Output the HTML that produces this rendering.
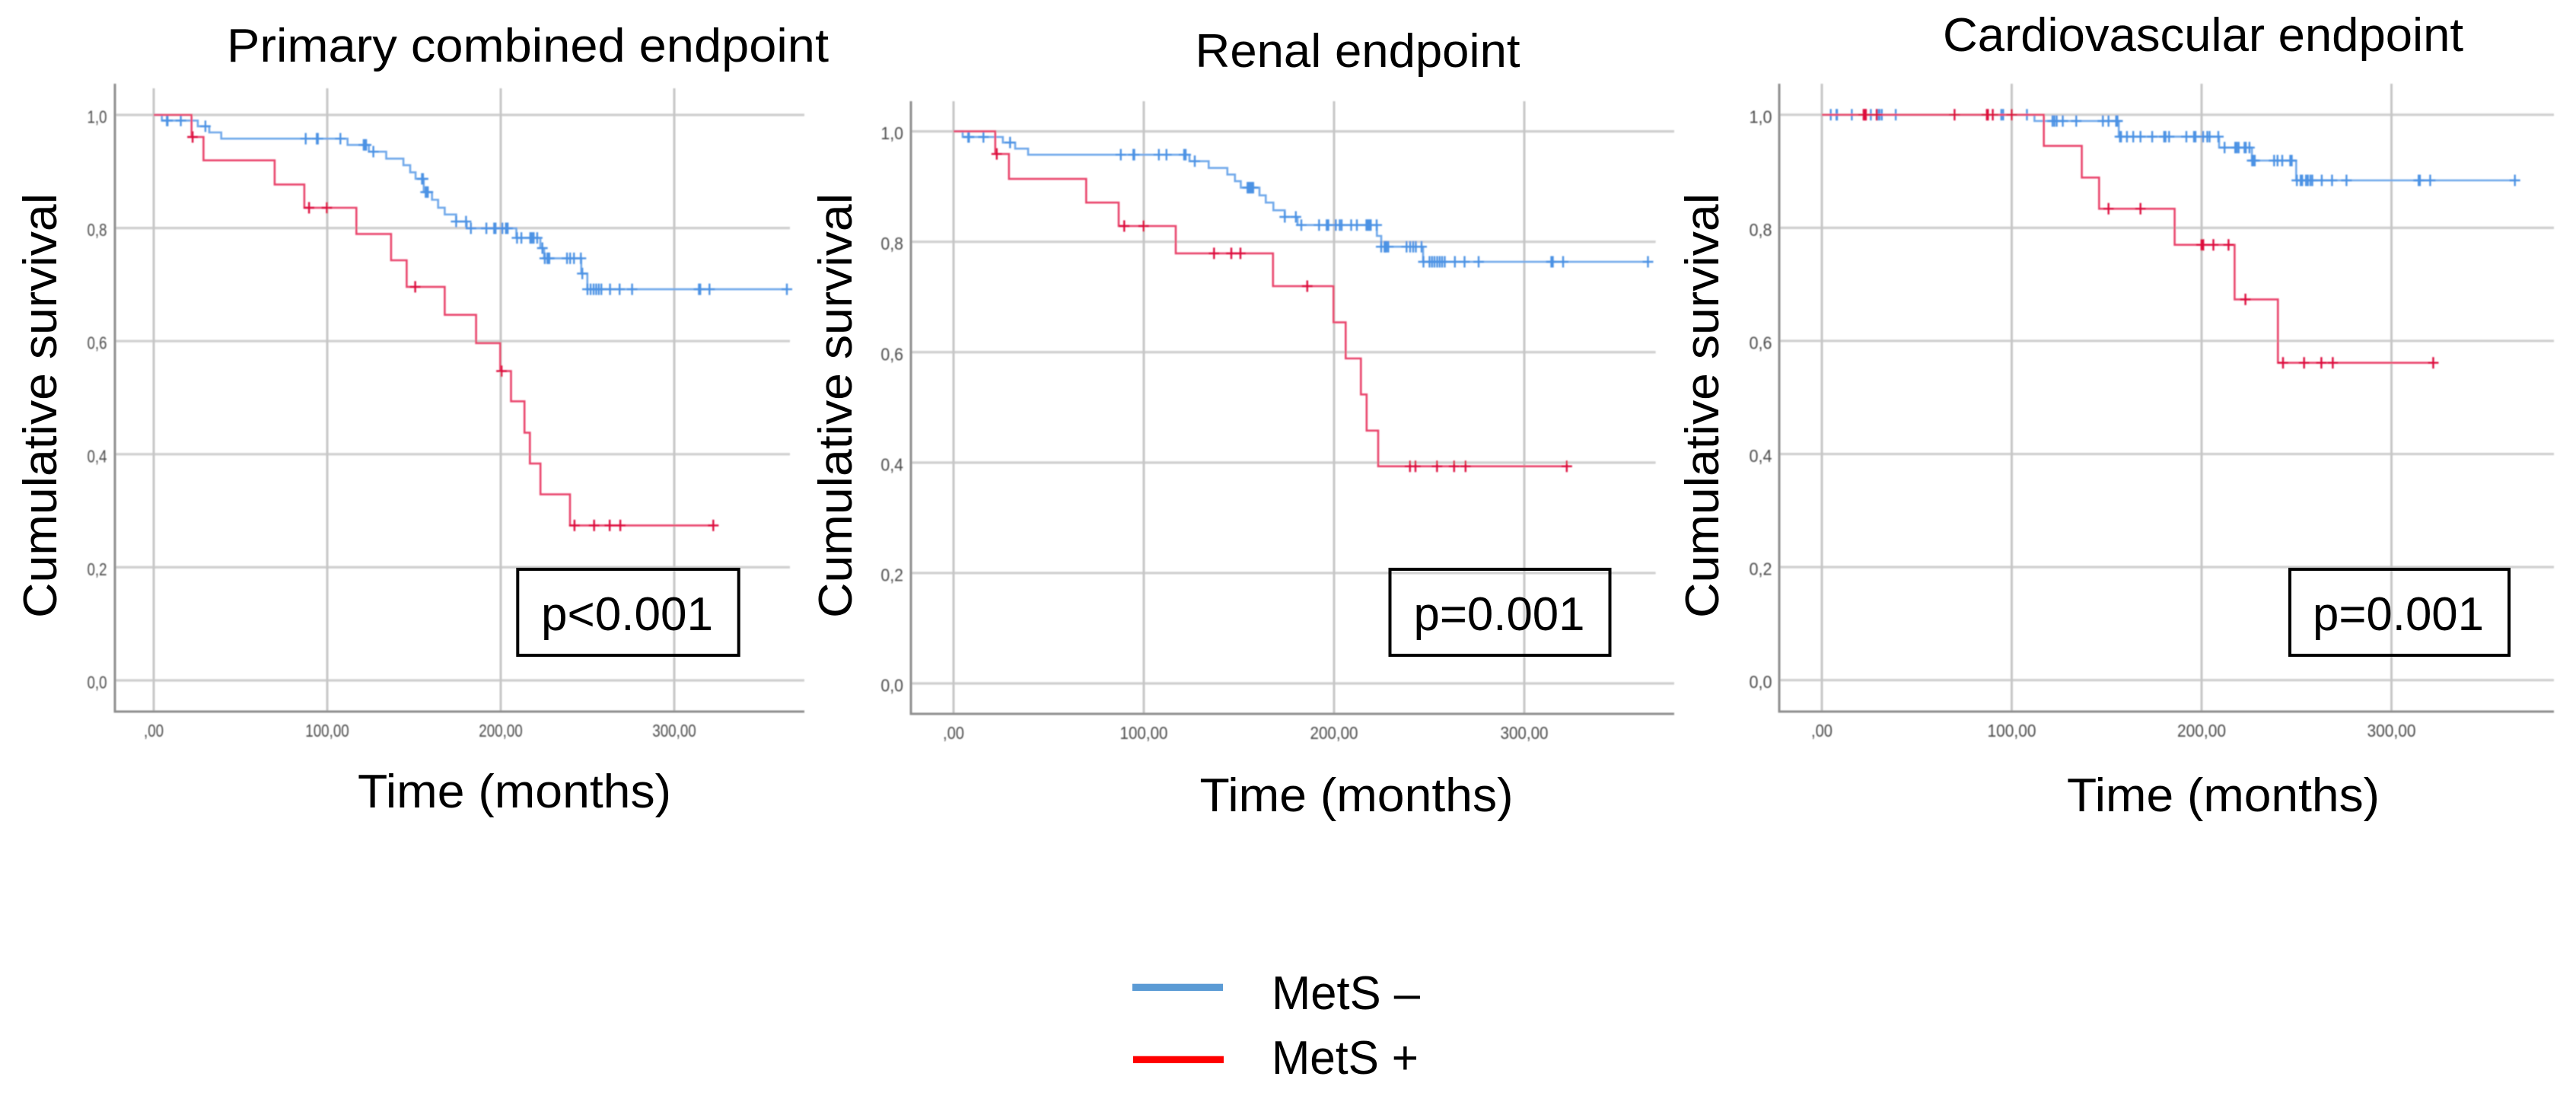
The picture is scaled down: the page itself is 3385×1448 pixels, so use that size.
<!DOCTYPE html>
<html lang="en">
<head>
<meta charset="utf-8">
<title>Kaplan-Meier survival by MetS status</title>
<style>
  html, body { margin: 0; padding: 0; background: #ffffff; }
  svg { display: block; }
  text { font-family: "Liberation Sans", sans-serif; fill: #000000; }
  .big { font-size: 62px; }
  .tick { font-size: 23px; fill: #4a4a4a; }
</style>
</head>
<body>
<svg id="figure" width="3385" height="1448" viewBox="0 0 3385 1448" xmlns="http://www.w3.org/2000/svg">
  <defs>
    <filter id="soft" x="-2%" y="-2%" width="104%" height="104%"><feGaussianBlur stdDeviation="0.7"/></filter>
  </defs>
  <rect x="0" y="0" width="3385" height="1448" fill="#ffffff"/>

  <g id="plot-1" filter="url(#soft)"></g>
  <g id="plot-2" filter="url(#soft)"></g>
  <g id="plot-3" filter="url(#soft)"></g>

  <text class="big" x="298" y="81" textLength="791" lengthAdjust="spacingAndGlyphs">Primary combined endpoint</text>
  <text class="big" x="1570.5" y="88" textLength="427" lengthAdjust="spacingAndGlyphs">Renal endpoint</text>
  <text class="big" x="2553" y="67" textLength="684" lengthAdjust="spacingAndGlyphs">Cardiovascular endpoint</text>

  <text class="big" transform="translate(74,812) rotate(-90)" textLength="558" lengthAdjust="spacingAndGlyphs">Cumulative survival</text>
  <text class="big" transform="translate(1119,812) rotate(-90)" textLength="558" lengthAdjust="spacingAndGlyphs">Cumulative survival</text>
  <text class="big" transform="translate(2258,812) rotate(-90)" textLength="558" lengthAdjust="spacingAndGlyphs">Cumulative survival</text>

  <text class="big" x="470" y="1061" textLength="412" lengthAdjust="spacingAndGlyphs">Time (months)</text>
  <text class="big" x="1576.5" y="1066" textLength="412" lengthAdjust="spacingAndGlyphs">Time (months)</text>
  <text class="big" x="2716" y="1066" textLength="411" lengthAdjust="spacingAndGlyphs">Time (months)</text>

  <rect x="680.3" y="748" width="290.4" height="113" fill="none" stroke="#000000" stroke-width="4"/>
  <text class="big" x="711" y="828" textLength="226" lengthAdjust="spacingAndGlyphs">p&lt;0.001</text>
  <rect x="1826.5" y="748" width="289" height="113" fill="none" stroke="#000000" stroke-width="4"/>
  <text class="big" x="1857.5" y="828" textLength="225" lengthAdjust="spacingAndGlyphs">p=0.001</text>
  <rect x="3009" y="748" width="288" height="113" fill="none" stroke="#000000" stroke-width="4"/>
  <text class="big" x="3039" y="828" textLength="225" lengthAdjust="spacingAndGlyphs">p=0.001</text>

  <g>
    <rect x="1488" y="1292.7" width="119" height="9.3" fill="#5b9bd5"/>
    <text class="big" x="1671" y="1326" textLength="195" lengthAdjust="spacingAndGlyphs">MetS –</text>
    <rect x="1489" y="1387.7" width="119" height="9.3" fill="#ff0000"/>
    <text class="big" x="1671" y="1411" textLength="193" lengthAdjust="spacingAndGlyphs">MetS +</text>
  </g>
</svg>

<script>
// ---- shared axis data ----
const xTickValues = [0, 100, 200, 300];
const xTickLabels = [",00", "100,00", "200,00", "300,00"];
const yTickValues = [1.0, 0.8, 0.6, 0.4, 0.2, 0.0];
const yTickLabels = ["1,0", "0,8", "0,6", "0,4", "0,2", "0,0"];

// ---- primary combined endpoint ----
const primaryBlueTimes = [4.7, 25.4, 32, 38.9, 111.7, 124, 134, 143.9, 147.8, 150.9, 155.6, 160.4, 163.9, 167.7, 174.3, 180.4, 209, 222.8, 225, 246.4, 249.9];
const primaryBlueSurvival = [0.990, 0.980, 0.969, 0.958, 0.947, 0.935, 0.9227, 0.911, 0.8985, 0.887, 0.8635, 0.850, 0.836, 0.824, 0.8115, 0.7995, 0.7825, 0.7645, 0.7465, 0.7195, 0.6917];
const primaryBlueCensored = [7.6, 8, 15.6, 29.8, 87.6, 94, 94.6, 107.6, 121, 121.8, 122.4, 126.6, 154.6, 155.2, 156.7, 157.4, 158, 174.3, 180, 182.8, 191.7, 196.2, 197, 200.9, 203, 204, 209.4, 211.9, 217, 218, 219, 221, 224, 225.4, 226.9, 227.5, 228, 238.2, 240, 242.2, 246.2, 247, 250, 251.8, 253.5, 255, 256.5, 258, 263, 268.5, 275.7, 314.2, 315, 320.3, 364.9];
const primaryRedTimes = [21.8, 28.7, 69.7, 86.8, 116.8, 136.8, 145.8, 167.7, 185.8, 199.7, 205.9, 213.7, 216.8, 222.9, 239.9];
const primaryRedSurvival = [0.961, 0.9196, 0.877, 0.8358, 0.7895, 0.743, 0.696, 0.6465, 0.5965, 0.547, 0.4935, 0.438, 0.3835, 0.329, 0.274];
const primaryRedCensored = [22.4, 89.5, 99.8, 150.7, 200.5, 242.5, 253.8, 262.8, 268.9, 322.5];

// ---- renal endpoint ----
const renalBlueTimes = [4.8, 25.9, 32.4, 39.2, 124, 134.1, 143.9, 147.9, 151, 160.8, 164.1, 168.1, 174.1, 180.8, 222.5, 224.8, 246.8];
const renalBlueSurvival = [0.9898, 0.9797, 0.9687, 0.9577, 0.946, 0.9337, 0.9218, 0.9097, 0.898, 0.884, 0.871, 0.857, 0.845, 0.8303, 0.8106, 0.791, 0.7637];
const renalBlueCensored = [7.7, 8.1, 15.7, 29.7, 87.9, 94.5, 95, 107.9, 111.9, 121.2, 122, 126.8, 154.5, 155, 155.5, 156, 156.5, 157, 157.5, 174.1, 179.9, 182.8, 192.1, 196.1, 197, 200.9, 203, 204, 209, 212, 217, 217.8, 218.6, 219.3, 222.4, 224.8, 226.5, 227, 227.5, 228.5, 238.1, 240, 241.6, 243, 246, 247, 250.2, 251.5, 252.8, 254.2, 255.5, 256.8, 258.2, 263.5, 268.6, 276, 314.2, 315, 320.4, 365];
const renalRedTimes = [21.9, 29.1, 69.7, 86.8, 116.8, 167.9, 199.7, 206.1, 214.1, 217.1, 223.2];
const renalRedSurvival = [0.959, 0.9139, 0.871, 0.8285, 0.779, 0.7196, 0.654, 0.5886, 0.5234, 0.458, 0.3933];
const renalRedCensored = [22.7, 89.7, 99.9, 136.9, 146, 150.8, 185.9, 239.9, 242.8, 254.1, 263.1, 269.1, 322.3];

// ---- cardiovascular endpoint ----
const cardioBlueTimes = [112, 156.4, 209.2, 226.5, 249.8];
const cardioBlueSurvival = [0.989, 0.9613, 0.942, 0.919, 0.884];
const cardioBlueCensored = [4.7, 7.7, 8, 15.8, 25.8, 29.4, 30.4, 31.6, 38.9, 94.5, 95.5, 108, 121.5, 122.5, 123.7, 126.9, 134, 148, 151, 155, 155.7, 157, 157.6, 160.7, 164, 167.8, 174, 180.3, 181, 182.9, 192, 196, 196.8, 200.8, 203, 204.2, 208.8, 212.1, 217.7, 218.5, 219.5, 222.6, 223.3, 225.2, 226.6, 227.3, 228, 238.2, 240, 242.5, 246.7, 247.5, 250.2, 252.2, 253, 255, 256, 257.3, 258.3, 263.3, 268.7, 276.3, 314.3, 315, 320.4, 365];
const cardioRedTimes = [116.9, 136.9, 146, 185.8, 217.4, 240.2];
const cardioRedSurvival = [0.945, 0.889, 0.8337, 0.77, 0.6735, 0.5613];
const cardioRedCensored = [22, 22.7, 23.2, 28.9, 69.9, 86.9, 87.5, 90, 100, 151, 167.8, 199.9, 200.9, 206.2, 214.2, 223.1, 242.9, 254, 263.1, 269.1, 322];

// ---- panel geometry ----
const panels = [
  { id: "plot-1", key: "primary",
    axisX: 151, axisRight: 1057, gridRight: 1038, axisTop: 110, gridTop: 116, axisBottom: 935,
    x0: 202, xUnit: 2.28, y1: 151, y0: 894,
    xLabelY: 968, xLabelW: 57.5, zeroLabelW: 26, yLabelRight: 140.5, yLabelW: 26,
    blue: [primaryBlueTimes, primaryBlueSurvival, primaryBlueCensored],
    red: [primaryRedTimes, primaryRedSurvival, primaryRedCensored] },
  { id: "plot-2", key: "renal",
    axisX: 1197, axisRight: 2200, gridRight: 2175.6, axisTop: 133, gridTop: 133, axisBottom: 938,
    x0: 1253, xUnit: 2.5, y1: 172.6, y0: 898,
    xLabelY: 971, xLabelW: 63, zeroLabelW: 28, yLabelRight: 1187, yLabelW: 29.6,
    blue: [renalBlueTimes, renalBlueSurvival, renalBlueCensored],
    red: [renalRedTimes, renalRedSurvival, renalRedCensored] },
  { id: "plot-3", key: "cardiovascular",
    axisX: 2338, axisRight: 3356, gridRight: 3356, axisTop: 110, gridTop: 110, axisBottom: 935,
    x0: 2394, xUnit: 2.495, y1: 150.8, y0: 893.7,
    xLabelY: 968, xLabelW: 64, zeroLabelW: 28, yLabelRight: 2328.5, yLabelW: 30,
    blue: [cardioBlueTimes, cardioBlueSurvival, cardioBlueCensored],
    red: [cardioRedTimes, cardioRedSurvival, cardioRedCensored] }
];

const SVG_NS = "http://www.w3.org/2000/svg";

function survivalAt(times, values, t) {
  let s = 1;
  for (let i = 0; i < times.length; i++) {
    if (t >= times[i]) s = values[i];
  }
  return s;
}

function drawLine(parent, x1, y1, x2, y2, stroke, width, name) {
  const el = document.createElementNS(SVG_NS, "line");
  el.setAttribute("x1", x1);
  el.setAttribute("y1", y1);
  el.setAttribute("x2", x2);
  el.setAttribute("y2", y2);
  el.setAttribute("stroke", stroke);
  el.setAttribute("stroke-width", width);
  
  
  parent.appendChild(el);
}

function drawLabel(parent, str, x, y, anchor, len, name) {
  const el = document.createElementNS(SVG_NS, "text");
  el.setAttribute("class", "tick");
  el.setAttribute("x", x);
  el.setAttribute("y", y);
  el.setAttribute("text-anchor", anchor);
  el.setAttribute("textLength", len);
  el.setAttribute("lengthAdjust", "spacingAndGlyphs");
  el.textContent = str;
  
  
  parent.appendChild(el);
}

function drawSeries(parent, p, series, lineColor, markColor, seriesName) {
  const times = series[0], values = series[1], censored = series[2];
  const xOf = function (t) { return p.x0 + t * p.xUnit; };
  const yOf = function (s) { return p.y0 - s * (p.y0 - p.y1); };
  const endT = Math.max(times[times.length - 1], censored[censored.length - 1]);
  let d = "M" + xOf(0).toFixed(1) + " " + yOf(1).toFixed(1);
  for (let i = 0; i < times.length; i++) {
    d += "H" + xOf(times[i]).toFixed(1) + "V" + yOf(values[i]).toFixed(1);
  }
  d += "H" + xOf(endT).toFixed(1);
  const path = document.createElementNS(SVG_NS, "path");
  path.setAttribute("d", d);
  path.setAttribute("fill", "none");
  path.setAttribute("stroke", lineColor);
  path.setAttribute("stroke-width", "2.6");
  
  
  parent.appendChild(path);
  censored.forEach(function (t) {
    const cx = xOf(t);
    const cy = yOf(survivalAt(times, values, t));
    const mark = document.createElementNS(SVG_NS, "path");
    mark.setAttribute("d", "M" + (cx - 7).toFixed(1) + " " + cy.toFixed(1) + "H" + (cx + 7).toFixed(1) + "M" + cx.toFixed(1) + " " + (cy - 7.5).toFixed(1) + "V" + (cy + 7.5).toFixed(1));
    mark.setAttribute("fill", "none");
    mark.setAttribute("stroke", markColor);
    mark.setAttribute("stroke-width", "2.4");
    
    
    parent.appendChild(mark);
  });
}

panels.forEach(function (p) {
  const g = document.getElementById(p.id);
  const xOf = function (t) { return p.x0 + t * p.xUnit; };
  const yOf = function (s) { return p.y0 - s * (p.y0 - p.y1); };

  yTickValues.forEach(function (v, i) {
    const right = (v === 1 || v === 0) ? p.axisRight : p.gridRight;
    drawLine(g, p.axisX, yOf(v), right, yOf(v), "#cfcfcf", 3.2, "y-gridline-" + p.key);
    drawLabel(g, yTickLabels[i], p.yLabelRight, yOf(v) + 10.5, "end", p.yLabelW, "y-tick-label-" + p.key);
  });
  xTickValues.forEach(function (v, i) {
    drawLine(g, xOf(v), p.gridTop, xOf(v), p.axisBottom, "#c6c6c6", 3, "x-gridline-" + p.key);
    drawLabel(g, xTickLabels[i], xOf(v), p.xLabelY, "middle", i === 0 ? p.zeroLabelW : p.xLabelW, "x-tick-label-" + p.key);
  });

  drawLine(g, p.axisX, p.axisTop, p.axisX, p.axisBottom + 1.5, "#8e8e8e", 3, "y-axis-" + p.key);
  drawLine(g, p.axisX, p.axisBottom, p.axisRight, p.axisBottom, "#8e8e8e", 3, "x-axis-" + p.key);

  drawSeries(g, p, p.blue, "#6fa8ea", "#4c92e4", "mets-negative-" + p.key);
  drawSeries(g, p, p.red, "#e9446c", "#dd0a3e", "mets-positive-" + p.key);
});
</script>
</body>
</html>
